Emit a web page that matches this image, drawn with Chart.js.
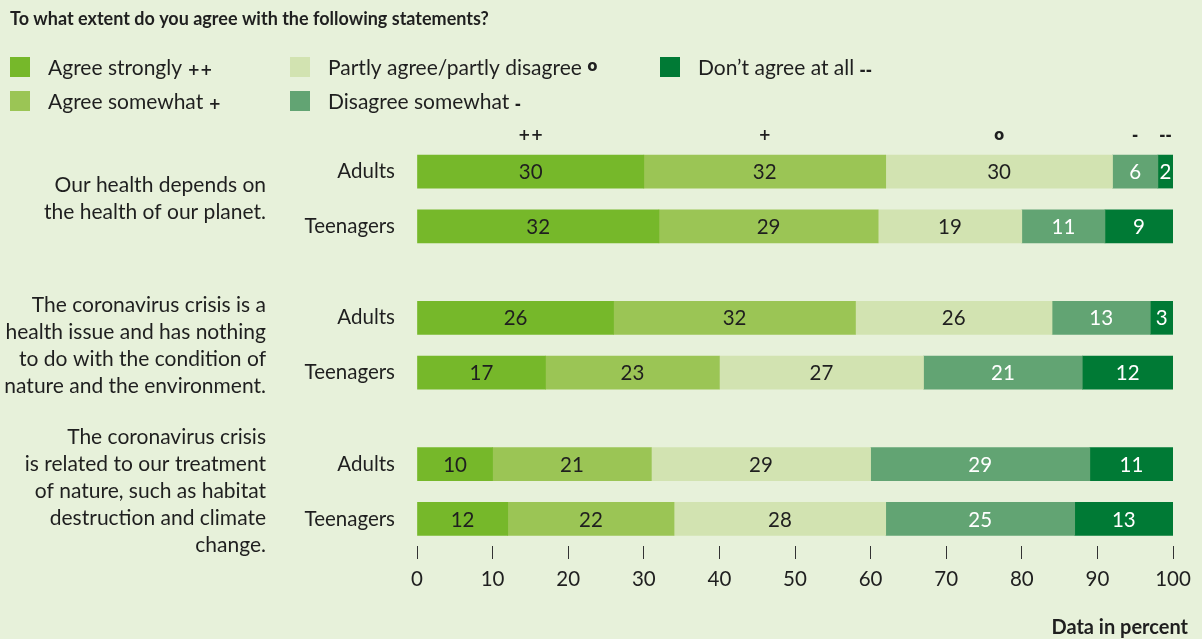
<!DOCTYPE html>
<html>
<head>
<meta charset="utf-8">
<script src="https://cdn.jsdelivr.net/npm/chart.js@4/dist/chart.umd.min.js"></script>
<style>
  html, body { margin: 0; padding: 0; background: #e7f1da; }
  #wrap { width: 1202px; height: 639px; position: relative; }
</style>
</head>
<body>
<div id="wrap"><canvas id="survey"></canvas></div>
<script>
// Survey data, percent per answer, rows in order: statement 1 adults/teens, statement 2, statement 3
const rowLabels = ['Adults', 'Teenagers', 'Adults', 'Teenagers', 'Adults', 'Teenagers'];
const statements = [
    ['Our health depends on', 'the health of our planet.'],
    ['The coronavirus crisis is a', 'health issue and has nothing', 'to do with the condition of', 'nature and the environment.'],
    ['The coronavirus crisis', 'is related to our treatment', 'of nature, such as habitat', 'destruction and climate', 'change.']
];
const agreeStrongly = [30, 32, 26, 17, 10, 12];
const agreeSomewhat = [32, 29, 32, 23, 21, 22];
const partlyAgree = [30, 19, 26, 27, 29, 28];
const disagreeSomewhat = [6, 11, 13, 21, 29, 25];
const notAtAll = [2, 9, 3, 12, 11, 13];
const xTicks = [0, 10, 20, 30, 40, 50, 60, 70, 80, 90, 100];

const FONT = "Lato, 'Open Sans', sans-serif";
const SYMBOL_FONT = "'DejaVu Sans', Lato, sans-serif";
const TEXT = '#1f1f1f';

// y positions: two rows per statement, wider gap between statements
const ROW_STEP = 3, GROUP_STEP = 8;
const rowPos = rowLabels.map((_, i) => Math.floor(i / 2) * GROUP_STEP + (i % 2) * ROW_STEP);

const series = [
    { label: 'Agree strongly', symbol: '++', data: agreeStrongly, color: '#76b82a', text: TEXT },
    { label: 'Agree somewhat', symbol: '+', data: agreeSomewhat, color: '#9bc555', text: TEXT },
    { label: 'Partly agree/partly disagree', symbol: 'o', data: partlyAgree, color: '#d2e3b1', text: TEXT },
    { label: 'Disagree somewhat', symbol: '-', data: disagreeSomewhat, color: '#62a473', text: '#ffffff' },
    { label: "Don\u2019t agree at all", symbol: '--', data: notAtAll, color: '#007a35', text: '#ffffff' }
];

// Title, legend, statement texts, column symbols, value labels
const decorations = {
    id: 'decorations',
    afterDatasetsDraw(chart) {
        const ctx = chart.ctx;
        ctx.save();

        // values inside the segments
        ctx.font = `20.5px ${FONT}`;
        ctx.textAlign = 'center';
        ctx.textBaseline = 'middle';
        series.forEach((s, d) => {
            chart.getDatasetMeta(d).data.forEach((bar, i) => {
                ctx.fillStyle = s.text;
                ctx.fillText(String(s.data[i]), (bar.x + bar.base) / 2, bar.y + 1);
            });
        });

        // answer symbols over the first row
        ctx.font = `bold 15px ${SYMBOL_FONT}`;
        ctx.fillStyle = TEXT;
        ctx.textBaseline = 'alphabetic';
        series.forEach((s, d) => {
            const bar = chart.getDatasetMeta(d).data[0];
            ctx.fillText(s.symbol, (bar.x + bar.base) / 2, 140);
        });

        // statements, right aligned, centred on their pair of bars
        const yScale = chart.scales.y;
        ctx.font = `21px ${FONT}`;
        ctx.textAlign = 'right';
        ctx.textBaseline = 'middle';
        statements.forEach((lines, g) => {
            const mid = (yScale.getPixelForValue(rowPos[g * 2]) + yScale.getPixelForValue(rowPos[g * 2 + 1])) / 2;
            const lh = 27;
            const top = mid - (lines.length - 1) * lh / 2;
            lines.forEach((t, k) => ctx.fillText(t, 266, top + k * lh));
        });

        // title
        ctx.textAlign = 'left';
        ctx.font = `bold 18px ${FONT}`;
        ctx.fillText('To what extent do you agree with the following statements?', 10, 19);

        // legend, two rows per column, names and symbols on a shared baseline
        const colX = [10, 290, 660];
        const rowY = [67, 101];
        series.forEach((s, d) => {
            const x = colX[Math.floor(d / 2)], y = rowY[d % 2];
            ctx.fillStyle = s.color;
            ctx.fillRect(x, y - 10, 20, 20);
            ctx.fillStyle = TEXT;
            ctx.textBaseline = 'alphabetic';
            ctx.font = `21px ${FONT}`;
            const name = s.label + ' ';
            ctx.fillText(name, x + 38, y + 8);
            const w = ctx.measureText(name).width;
            ctx.font = `bold 15px ${SYMBOL_FONT}`;
            ctx.fillText(s.symbol, x + 38 + w, s.symbol === 'o' ? y + 4 : y + 8);
        });

        // footnote
        ctx.textAlign = 'right';
        ctx.textBaseline = 'middle';
        ctx.font = `bold 20px ${FONT}`;
        ctx.fillText('Data in percent', 1188, 628);

        ctx.restore();
    }
};

new Chart(document.getElementById('survey'), {
    type: 'bar',
    data: {
        datasets: series.map(s => ({
            label: s.label,
            data: s.data.map((v, i) => ({ x: v, y: rowPos[i] })),
            backgroundColor: s.color,
            borderWidth: 0,
            barThickness: 33
        }))
    },
    options: {
        indexAxis: 'y',
        responsive: true,
        maintainAspectRatio: false,
        animation: false,
        layout: { padding: { top: 150, left: 0, right: 29, bottom: 0 } },
        plugins: {
            legend: { display: false },
            tooltip: { enabled: false }
        },
        scales: {
            x: {
                type: 'linear',
                stacked: true,
                min: 0,
                max: 100,
                afterBuildTicks: (scale) => { scale.ticks = xTicks.map(v => ({ value: v })); },
                afterFit: (scale) => { scale.height = 93; },
                border: { display: false },
                grid: {
                    drawOnChartArea: false,
                    drawTicks: true,
                    tickLength: 13,
                    tickColor: '#333333',
                    tickWidth: 1
                },
                ticks: {
                    color: TEXT,
                    font: { family: FONT, size: 20.5 },
                    padding: 8,
                    maxRotation: 0
                }
            },
            y: {
                type: 'linear',
                stacked: true,
                reverse: true,
                offset: false,
                min: -1.18,
                max: 20.48,
                afterBuildTicks: (scale) => { scale.ticks = rowPos.map(v => ({ value: v })); },
                afterFit: (scale) => { scale.width = 417; },
                border: { display: false },
                grid: { display: false, drawTicks: false },
                ticks: {
                    autoSkip: false,
                    color: TEXT,
                    font: { family: FONT, size: 20.5 },
                    padding: 22,
                    callback: (v, i) => rowLabels[i]
                }
            }
        }
    },
    plugins: [decorations]
});
</script>
</body>
</html>
